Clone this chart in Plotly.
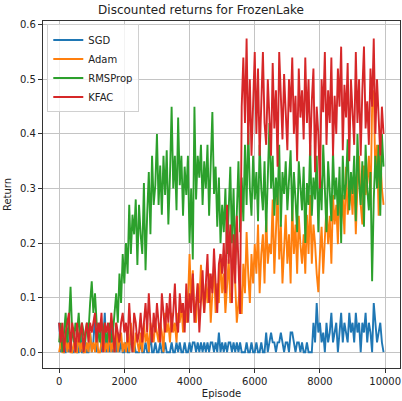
import plotly.graph_objects as go

step = 50
n_points = 200
episodes = [i * step for i in range(n_points)]

sgd = [
    0.054,0,0.018,0,0,0.036,0,0.018,0,0,
    0.018,0,0,0.036,0,0,0.018,0,0,0.036,
    0,0.018,0.072,0,0.036,0.054,0,0.018,0.072,0,
    0.036,0,0.054,0,0.018,0,0.036,0,0.018,0,
    0,0.018,0,0,0.036,0,0.018,0,0,0,
    0.018,0,0,0.018,0,0,0.036,0,0,0.018,
    0,0,0.018,0,0,0.018,0,0,0,0.018,
    0,0,0.018,0,0.018,0,0,0.018,0,0,
    0.018,0,0.018,0.018,0,0.018,0,0.018,0,0.018,
    0,0.018,0,0.018,0.018,0,0.018,0,0.036,0,
    0.018,0,0.018,0,0.018,0.018,0,0.018,0,0.018,
    0,0.018,0,0,0,0.018,0,0,0.018,0,
    0,0.018,0,0,0.018,0,0,0.036,0,0.018,
    0.036,0.018,0.018,0,0.018,0.018,0.036,0.018,0,0.018,
    0.018,0,0.036,0.036,0.018,0,0.018,0.018,0,0.018,
    0,0,0.018,0,0,0,0.054,0.018,0.09,0.036,
    0.054,0.018,0.036,0,0.054,0.018,0.036,0.072,0.018,0.036,
    0.054,0,0.036,0.072,0.018,0.054,0.036,0.018,0.072,0.036,
    0.054,0.018,0.072,0.036,0.054,0,0.054,0.036,0.072,0.018,
    0.054,0.036,0,0.09,0.054,0.018,0.036,0.054,0.018,0,
]

adam = [
    0,0.018,0,0,0.036,0,0.018,0,0,0.018,
    0,0,0.036,0,0.018,0,0,0.018,0,0.036,
    0,0.018,0,0.036,0,0,0.018,0.036,0,0.018,
    0,0.036,0,0.018,0,0.054,0,0.018,0.036,0,
    0.018,0,0.036,0,0.054,0.018,0,0.036,0.018,0,
    0.036,0,0.054,0.018,0.036,0,0.054,0.036,0.018,0.054,
    0.036,0.018,0.054,0.036,0,0.072,0.036,0.054,0.018,0.072,
    0.036,0.054,0.018,0.072,0.054,0.09,0.036,0.072,0.054,0.09,
    0.18,0.09,0.15,0.072,0.054,0.126,0.09,0.16,0.108,0.072,
    0.126,0.09,0.144,0.054,0.108,0.16,0.072,0.126,0.09,0.18,
    0.108,0.144,0.072,0.126,0.17,0.09,0.108,0.2,0.126,0.054,
    0.09,0.126,0.07,0.162,0.108,0.22,0.144,0.09,0.18,0.126,
    0.198,0.144,0.234,0.108,0.18,0.216,0.126,0.252,0.162,0.198,
    0.18,0.28,0.144,0.216,0.3,0.17,0.234,0.126,0.198,0.252,
    0.162,0.216,0.126,0.27,0.18,0.234,0.144,0.25,0.198,0.162,
    0.216,0.144,0.252,0.18,0.288,0.162,0.234,0.198,0.144,0.11,
    0.18,0.23,0.144,0.216,0.27,0.198,0.25,0.162,0.288,0.234,
    0.27,0.198,0.306,0.234,0.288,0.216,0.34,0.252,0.27,0.3,
    0.252,0.324,0.216,0.306,0.36,0.27,0.234,0.342,0.288,0.31,
    0.36,0.27,0.45,0.48,0.32,0.38,0.25,0.36,0.3,0.27,
]

rmsprop = [
    0.018,0.054,0,0.036,0.072,0.018,0.054,0.12,0.036,0.018,
    0.054,0.036,0.072,0.018,0.054,0.036,0.018,0.054,0.036,0.09,
    0.13,0.072,0.108,0.054,0.036,0.018,0.054,0.036,0.054,0.018,
    0.036,0.054,0.018,0.036,0.072,0.108,0.054,0.144,0.09,0.18,
    0.126,0.2,0.144,0.27,0.18,0.252,0.216,0.28,0.16,0.27,
    0.216,0.18,0.31,0.15,0.252,0.33,0.216,0.36,0.27,0.306,
    0.4,0.27,0.342,0.252,0.36,0.288,0.37,0.234,0.324,0.45,
    0.3,0.36,0.26,0.43,0.306,0.36,0.25,0.34,0.288,0.36,
    0.2,0.3,0.17,0.45,0.28,0.36,0.32,0.38,0.27,0.35,
    0.3,0.38,0.25,0.36,0.44,0.29,0.34,0.23,0.32,0.2,
    0.27,0.22,0.3,0.18,0.25,0.34,0.2,0.3,0.16,0.28,
    0.35,0.22,0.32,0.24,0.38,0.27,0.41,0.3,0.25,0.36,
    0.28,0.33,0.24,0.38,0.3,0.26,0.35,0.22,0.31,0.42,
    0.3,0.36,0.25,0.32,0.27,0.38,0.23,0.33,0.29,0.35,
    0.26,0.31,0.37,0.24,0.33,0.28,0.22,0.35,0.3,0.26,
    0.34,0.2,0.31,0.27,0.38,0.25,0.32,0.28,0.36,0.22,
    0.33,0.26,0.38,0.29,0.22,0.35,0.3,0.24,0.37,0.28,
    0.32,0.25,0.34,0.2,0.36,0.28,0.31,0.39,0.26,0.33,
    0.29,0.36,0.24,0.4,0.31,0.27,0.35,0.23,0.38,0.3,
    0.26,0.33,0.13,0.28,0.36,0.3,0.38,0.25,0.4,0.34,
]

kfac = [
    0.054,0.018,0.054,0,0.036,0.054,0.072,0,0.054,0.036,
    0,0.054,0.018,0.036,0.054,0,0.036,0.054,0.018,0.054,
    0.036,0.054,0.072,0.018,0.054,0.036,0.072,0,0.054,0.036,
    0.054,0.018,0.072,0.036,0,0.054,0.036,0.018,0.054,0.072,
    0.036,0.054,0.018,0.09,0.036,0,0.072,0.054,0.018,0.036,
    0.072,0.018,0.054,0.09,0.036,0.108,0.054,0.018,0.072,0.036,
    0.09,0.054,0.018,0.108,0.072,0.036,0.09,0.054,0.108,0.036,
    0.072,0.126,0.054,0.036,0.108,0.072,0.09,0.036,0.126,0.054,
    0.108,0.072,0.144,0.054,0.09,0.126,0.036,0.108,0.15,0.072,
    0.126,0.18,0.09,0.144,0.108,0.19,0.126,0.072,0.162,0.18,
    0.144,0.2,0.108,0.27,0.162,0.234,0.09,0.216,0.126,0.25,
    0.162,0.07,0.45,0.54,0.42,0.575,0.38,0.5,0.36,0.48,
    0.55,0.4,0.52,0.36,0.47,0.55,0.42,0.38,0.5,0.44,
    0.36,0.53,0.41,0.48,0.34,0.55,0.45,0.39,0.51,0.43,
    0.37,0.5,0.44,0.54,0.4,0.47,0.35,0.52,0.43,0.48,
    0.39,0.54,0.42,0.5,0.36,0.46,0.52,0.33,0.45,0.4,
    0.3,0.5,0.44,0.55,0.38,0.48,0.42,0.54,0.36,0.47,
    0.4,0.52,0.45,0.56,0.37,0.49,0.43,0.53,0.35,0.5,
    0.44,0.38,0.55,0.42,0.5,0.36,0.48,0.56,0.41,0.46,
    0.38,0.52,0.45,0.575,0.4,0.5,0.43,0.36,0.45,0.4,
]

series_names = ["SGD", "Adam", "RMSProp", "KFAC"]
series_values = [sgd, adam, rmsprop, kfac]
series_colors = ["#1f77b4", "#ff7f0e", "#2ca02c", "#d62728"]

x_ticks = [0, 2000, 4000, 6000, 8000, 10000]
x_tick_labels = ["0", "2000", "4000", "6000", "8000", "10000"]
y_ticks = [0.0, 0.1, 0.2, 0.3, 0.4, 0.5, 0.6]
y_tick_labels = ["0.0", "0.1", "0.2", "0.3", "0.4", "0.5", "0.6"]

fig = go.Figure()
for name, vals, col in zip(series_names, series_values, series_colors):
    fig.add_trace(go.Scatter(x=episodes, y=vals, mode="lines", name=name,
                             line=dict(color=col, width=1.9)))

font_family = "DejaVu Sans"
axis_common = dict(
    showline=True, linecolor="#333333", linewidth=1.2, mirror=True,
    showgrid=True, gridcolor="#c4c4c4", gridwidth=1,
    ticks="outside", ticklen=4, tickwidth=1, tickcolor="#333333",
    zeroline=False, tickfont=dict(size=10, color="#222222", family=font_family),
    automargin=False,
)

fig.update_layout(
    width=402, height=401,
    margin=dict(l=43, r=2, t=21, b=33),
    paper_bgcolor="white", plot_bgcolor="white",
    font=dict(family=font_family, size=10, color="#222222"),
    title=dict(text="Discounted returns for FrozenLake", x=0.5, xanchor="center",
               y=0.975, yanchor="middle", font=dict(size=12, color="#222222")),
    xaxis=dict(range=[-495, 10455], tickvals=x_ticks, ticktext=x_tick_labels,
               title=dict(text="Episode", font=dict(size=10), standoff=3), **axis_common),
    yaxis=dict(range=[-0.029, 0.607], tickvals=y_ticks, ticktext=y_tick_labels,
               title=dict(text="Return", font=dict(size=10), standoff=6), **axis_common),
    legend=dict(x=0.012, y=0.99, xanchor="left", yanchor="top",
                bgcolor="rgba(255,255,255,0.8)", bordercolor="#d0d0d0", borderwidth=1,
                font=dict(size=10, color="#222222"), tracegroupgap=0, itemwidth=30),
    showlegend=True,
    hovermode=False,
)

fig.write_html("out.html", config={"displayModeBar": False, "staticPlot": True},
               post_script="document.body.style.margin='0';document.body.style.overflow='hidden';")
